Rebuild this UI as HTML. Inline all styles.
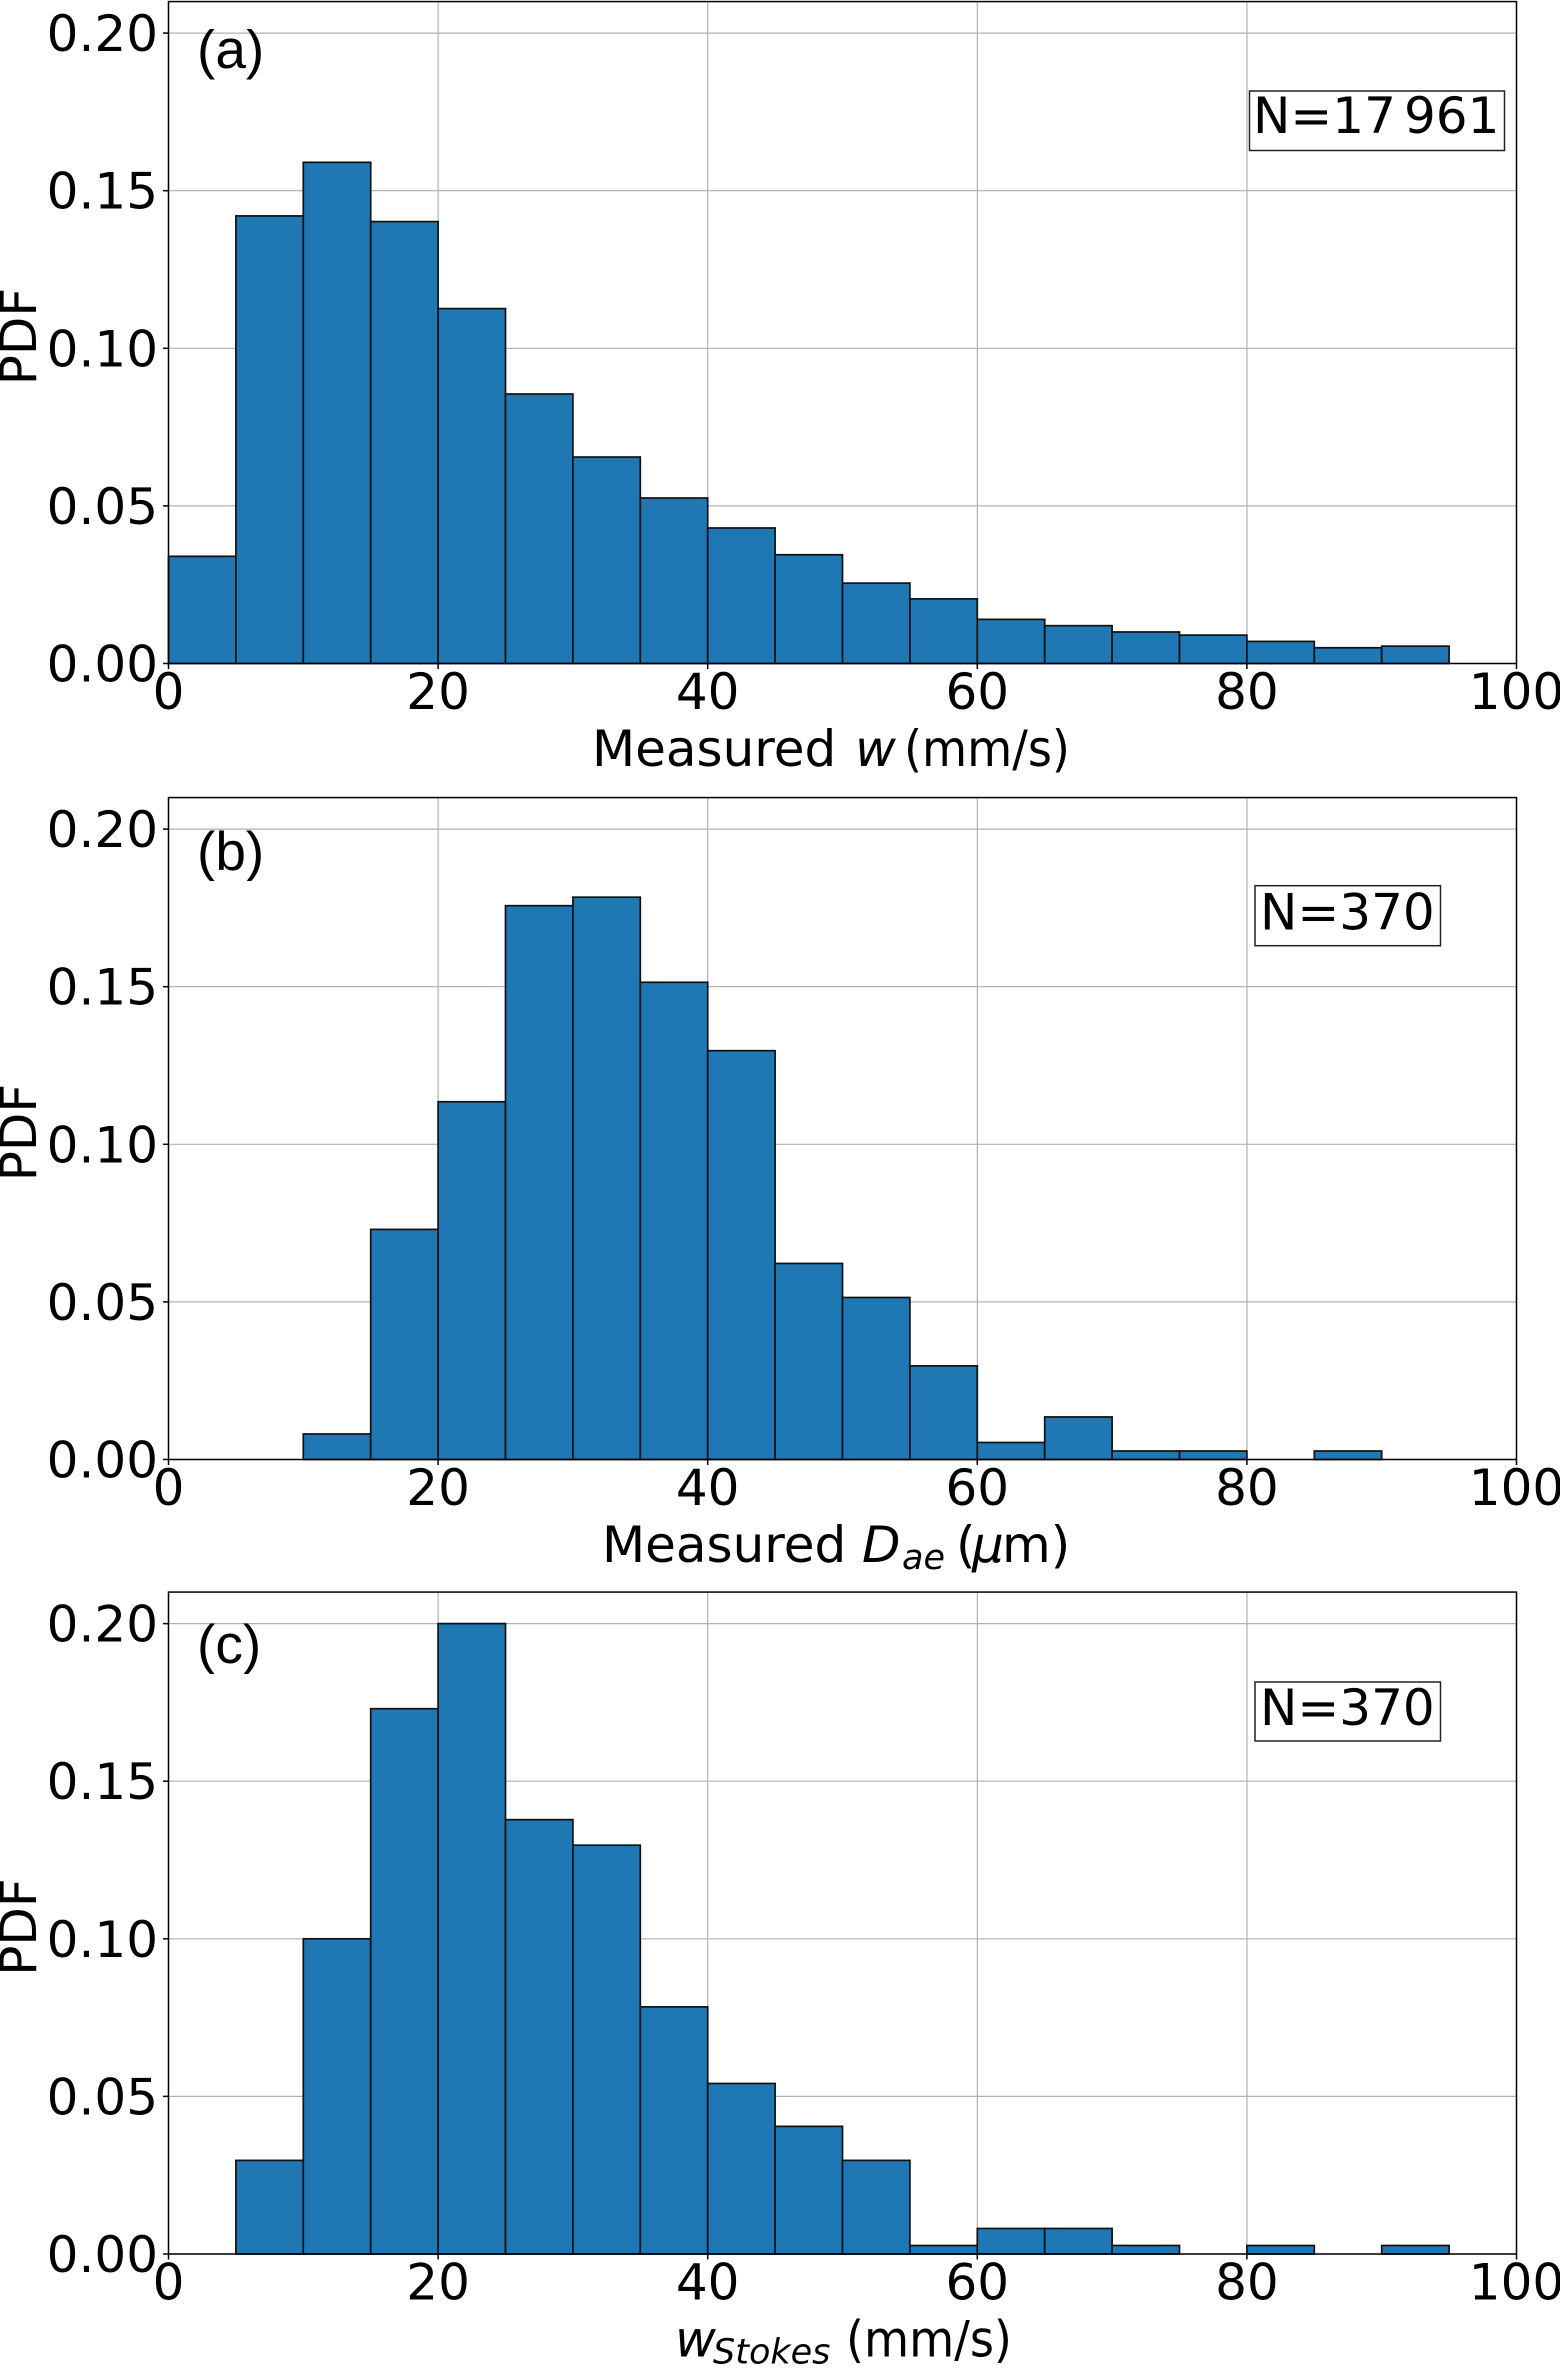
<!DOCTYPE html>
<html lang="en">
<head>
<meta charset="utf-8">
<title>PDF histograms</title>
<style>
html,body{margin:0;padding:0;background:#fff;}
svg{display:block;}
text{font-family:"DejaVu Sans","Liberation Sans",sans-serif;fill:#000;}
</style>
</head>
<body>
<svg id="fig" width="1560" height="2368" viewBox="0 0 1560 2368" xmlns="http://www.w3.org/2000/svg"></svg>
<script>
const binWidth = 5;
const binStarts = [0,5,10,15,20,25,30,35,40,45,50,55,60,65,70,75,80,85,90];
const valuesA = [0.034,0.142,0.159,0.1402,0.1126,0.0855,0.0655,0.0525,0.043,0.0345,0.0255,0.0205,0.014,0.012,0.010,0.009,0.007,0.005,0.0055];
const valuesB = [0,0,0.0081,0.073,0.1135,0.1757,0.1784,0.1514,0.1297,0.0622,0.0514,0.0297,0.0054,0.0135,0.0027,0.0027,0,0.0027,0];
const valuesC = [0,0.0297,0.1,0.173,0.2,0.1378,0.1297,0.0784,0.0541,0.0405,0.0297,0.0027,0.0081,0.0081,0.0027,0,0.0027,0,0.0027];
const xTicks = [0,20,40,60,80,100];
const yTicks = [0,0.05,0.10,0.15,0.20];
const yTickLabels = ["0.00","0.05","0.10","0.15","0.20"];
const FS = 50;
const LEFT = 168.5, RIGHT = 1516.5, XMAX = 100, YMAX = 0.21, YSCALE = 3152;
const NS = "http://www.w3.org/2000/svg";
const fig = document.getElementById("fig");

function mk(tag, attrs, parent){
  const e = document.createElementNS(NS, tag);
  for (const k in attrs) e.setAttribute(k, attrs[k]);
  (parent || fig).appendChild(e);
  return e;
}
function xScale(v){ return LEFT + (RIGHT - LEFT) * v / XMAX; }

function drawPanel(key, values, y0, labelText, labelY, clipTop, clipBottom, nBox, nSegs, nBase, xLabelSegs){
  const yScale = v => y0 - v * YSCALE;
  const top = yScale(YMAX);
  const g = mk("g", {});
  
  

  // grid
  const grid = mk("g", {stroke:"#b0b0b0","stroke-width":1.2}, g);
  
  
  xTicks.forEach(t => {
    const line = mk("line", {x1:xScale(t),x2:xScale(t),y1:top,y2:y0}, grid);
    
    
  });
  yTicks.forEach(t => {
    const line = mk("line", {x1:LEFT,x2:RIGHT,y1:yScale(t),y2:yScale(t)}, grid);
    
    
  });

  // bars
  const bars = mk("g", {fill:"#1f77b4",stroke:"#111","stroke-width":1.7}, g);
  
  
  values.forEach((v, i) => {
    const x1 = xScale(binStarts[i]), x2 = xScale(binStarts[i] + binWidth);
    const r = mk("rect", {x:x1,y:yScale(v),width:x2-x1,height:y0-yScale(v)}, bars);
    
    
  });

  // spines
  const spine = mk("rect", {x:LEFT,y:top,width:RIGHT-LEFT,height:y0-top,fill:"none",stroke:"#000","stroke-width":1.5}, g);
  
  

  // x ticks
  xTicks.forEach(t => {
    const tick = mk("line", {x1:xScale(t),x2:xScale(t),y1:y0,y2:y0+5.5,stroke:"#000","stroke-width":1.5}, g);
    
    
    const lab = mk("text", {x:xScale(t),y:y0+45.5,"font-size":FS,"text-anchor":"middle"}, g);
    
    
    lab.textContent = t;
  });

  // y ticks
  yTicks.forEach((t, i) => {
    const tick = mk("line", {x1:LEFT-5.5,x2:LEFT,y1:yScale(t),y2:yScale(t),stroke:"#000","stroke-width":1.5}, g);
    
    
    const lab = mk("text", {x:158,y:yScale(t)+18,"font-size":FS,"text-anchor":"end"}, g);
    
    
    lab.textContent = yTickLabels[i];
  });

  // y axis title
  const mid = (top + y0) / 2;
  const yt = mk("text", {x:0,y:0,"font-size":FS,"text-anchor":"middle",transform:`translate(36 ${mid+4}) rotate(-90)`}, g);
  
  
  yt.textContent = "PDF";

  // panel letter, clipped as in the source image
  const clip = mk("clipPath", {id:"clip-"+key}, g);
  mk("rect", {x:180,y:clipTop,width:110,height:clipBottom-clipTop}, clip);
  const pl = mk("text", {x:197,y:labelY,"font-size":55,"clip-path":`url(#clip-${key})`}, g);
  
  
  pl.style.fontFamily = '"Liberation Sans",sans-serif';
  pl.textContent = labelText;

  // N box
  const nb = mk("rect", {x:nBox[0],y:nBox[1],width:nBox[2],height:nBox[3],fill:"#fff",stroke:"#222","stroke-width":1.5}, g);
  
  
  const nt = mk("text", {y:nBase,"font-size":FS}, g);
  
  
  nSegs.forEach(s => {
    const sp = mk("tspan", {x:s[0]}, nt);
    sp.textContent = s[1];
  });

  // x axis title, each run placed separately like mathtext
  const xt = mk("g", {}, g);
  
  
  xLabelSegs.forEach(s => {
    const sp = mk("text", {x:s.x,y:y0+102.5+(s.dy||0),"font-size":s.size||FS}, xt);
    if (s.italic) sp.setAttribute("font-style","italic");
    if (s.len) { sp.setAttribute("textLength",s.len); sp.setAttribute("lengthAdjust","spacingAndGlyphs"); }
    sp.textContent = s.t;
  });
}

drawPanel("a", valuesA, 663.5, "(a)", 68, 29, 80,
  [1249.5,91,255,59.5], [[1253,"N=17"],[1404,"961"]], 133,
  [{x:592,t:"Measured"},{x:855,t:"w",italic:true},{x:904,t:"(mm/s)",len:166}]);

drawPanel("b", valuesB, 1459.5, "(b)", 870, 830, 881,
  [1255,885.7,185.5,60], [[1260,"N=370"]], 929.5,
  [{x:602,t:"Measured"},{x:862,t:"D",italic:true},{x:902,t:"ae",italic:true,size:35,dy:7},{x:956,t:"("},{x:972,t:"µ",italic:true},{x:1002,t:"m)"}]);

drawPanel("c", valuesC, 2254, "(c)", 1663, 1622.7, 1674,
  [1255,1682,185.5,59], [[1260,"N=370"]], 1725,
  [{x:675,t:"w",italic:true},{x:713,t:"Stokes",italic:true,size:35,dy:7},{x:846,t:"(mm/s)",len:166}]);
</script>
</body>
</html>
